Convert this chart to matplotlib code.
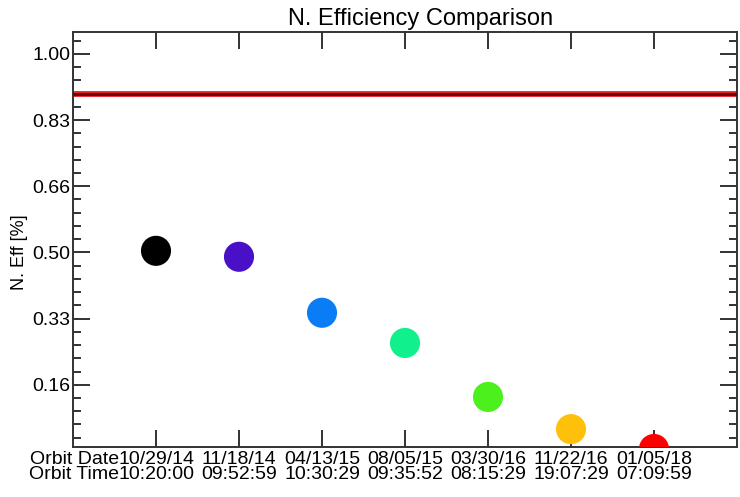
import numpy as np
import matplotlib.pyplot as plt
from matplotlib.ticker import MultipleLocator

plt.rcParams['font.family'] = ['Liberation Sans', 'DejaVu Sans']

# Orbit efficiency measurements
orbit_dates = ['10/29/14', '11/18/14', '04/13/15', '08/05/15', '03/30/16', '11/22/16', '01/05/18']
orbit_times = ['10:20:00', '09:52:59', '10:30:29', '09:35:52', '08:15:29', '19:07:29', '07:09:59']
n_eff = [0.504, 0.489, 0.348, 0.272, 0.136, 0.055, 0.005]
point_colors = ['#000000', '#4a10c8', '#0a7cf5', '#10f08c', '#4cf01c', '#ffc00c', '#ff0000']
threshold = 0.90

ytick_vals = [1/6, 2/6, 3/6, 4/6, 5/6, 1.0]
ytick_labels = ['0.16', '0.33', '0.50', '0.66', '0.83', '1.00']

fig = plt.figure(figsize=(7.4, 4.97), dpi=100)
ax = fig.add_axes([73/740, 1 - 447/497, 664/740, 415/497])

x = np.arange(1, len(n_eff) + 1)
ax.axhline(threshold, color='#e8202a', lw=4.2, zorder=2)
ax.axhline(threshold, color='#6e0000', lw=2.0, zorder=3)
ax.scatter(x, n_eff, s=470, c=point_colors, edgecolors='none', zorder=4)

xpad = 3
ax.set_xlim(0, 8)
ax.set_ylim(0.01, 1.055)
ax.set_xticks(x)
ax.set_xticklabels([d + '\n' + t for d, t in zip(orbit_dates, orbit_times)],
                   fontsize=14, linespacing=0.8)
ax.set_yticks(ytick_vals)
ax.set_yticklabels(ytick_labels, fontsize=14)
ax.yaxis.set_minor_locator(MultipleLocator(1/30))

ax.tick_params(axis='both', which='both', direction='in', top=True, right=True,
               color='#222222', width=1.3)
ax.tick_params(axis='both', which='major', length=12)
ax.tick_params(axis='both', which='minor', length=6)
ax.tick_params(axis='y', pad=2)
ax.tick_params(axis='x', pad=xpad)
for sp in ax.spines.values():
    sp.set_linewidth(1.4)
    sp.set_color('#333333')

# row captions just left of the first two-line tick label
ax.annotate('Orbit Date\nOrbit Time', xy=(0.55, 0), xycoords=('data', 'axes fraction'),
            xytext=(0, -xpad), textcoords='offset points',
            ha='right', va='top', fontsize=14, linespacing=0.8)

ax.set_ylabel('N. Eff [%]', fontsize=13)
ax.yaxis.set_label_coords(-0.068, 0.47)
ax.set_title('N. Efficiency Comparison', fontsize=17, pad=5, x=0.523)

fig.savefig('out.png', dpi=100)
